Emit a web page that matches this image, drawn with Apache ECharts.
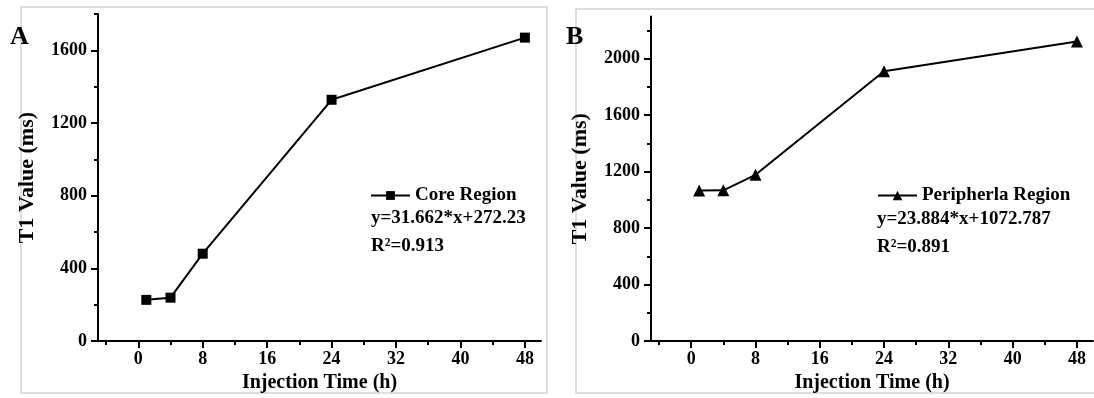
<!DOCTYPE html>
<html>
<head>
<meta charset="utf-8">
<script src="https://cdn.jsdelivr.net/npm/echarts@6/dist/echarts.min.js"></script>
<style>
  html, body { margin: 0; padding: 0; background: #fff; }
  #chart { width: 1094px; height: 398px; }
</style>
</head>
<body>
<div id="chart"></div>
<script>
// data
const timeA = [1, 4, 8, 24, 48]
const coreT1 = [227, 239, 481, 1328, 1670]
const timeB = [1, 4, 8, 24, 48]
const periT1 = [1066, 1068, 1178, 1911, 2122]

const xMajor = [0, 8, 16, 24, 32, 40, 48]
const xMinor = [-4, 4, 12, 20, 28, 36, 44]
const yMajorA = [0, 400, 800, 1200, 1600]
const yMinorA = [200, 600, 1000, 1400, 1800]
const yMajorB = [0, 400, 800, 1200, 1600, 2000]
const yMinorB = [200, 600, 1000, 1400, 1800, 2200]

const font = 'Liberation Serif'
const black = '#000'

function xAxes(grid) {
  return [
    {
      type: 'value', gridIndex: grid, position: 'bottom', min: -5, max: 50,
      name: 'Injection Time (h)', nameLocation: 'middle', nameGap: 27,
      nameTextStyle: { fontFamily: font, fontWeight: 'bold', fontSize: 20, color: black },
      axisLine: { show: true, onZero: false, lineStyle: { color: black, width: 2 } },
      axisTick: { show: true, customValues: xMajor, length: 7, lineStyle: { color: black, width: 2 } },
      axisLabel: { customValues: xMajor, margin: 9, fontFamily: font, fontWeight: 'bold', fontSize: 18, color: black,
        formatter: (v) => String(v) },
      splitLine: { show: false },
    },
    {
      type: 'value', gridIndex: grid, position: 'bottom', offset: 0, min: -5, max: 50,
      axisLine: { show: false, onZero: false },
      axisTick: { show: true, customValues: xMinor, length: 4, lineStyle: { color: black, width: 2 } },
      axisLabel: { show: false },
      splitLine: { show: false },
    },
  ]
}

function yAxes(grid, max, major, minor) {
  return [
    {
      type: 'value', gridIndex: grid, position: 'left', min: 0, max: max,
      name: 'T1 Value (ms)', nameLocation: 'middle', nameGap: 60,
      nameTextStyle: { fontFamily: font, fontWeight: 'bold', fontSize: 22, color: black },
      axisLine: { show: true, onZero: false, lineStyle: { color: black, width: 2 } },
      axisTick: { show: true, customValues: major, length: 7, lineStyle: { color: black, width: 2 } },
      axisLabel: { customValues: major, margin: 11, fontFamily: font, fontWeight: 'bold', fontSize: 18, color: black,
        formatter: (v) => String(v) },
      splitLine: { show: false },
    },
    {
      type: 'value', gridIndex: grid, position: 'left', offset: 0, min: 0, max: max,
      axisLine: { show: false, onZero: false },
      axisTick: { show: true, customValues: minor, length: 4, lineStyle: { color: black, width: 2 } },
      axisLabel: { show: false },
      splitLine: { show: false },
    },
  ]
}

const textStyle = { fontFamily: font, fontWeight: 'bold', fontSize: 19, fill: black }

const chart = echarts.init(document.getElementById('chart'))
chart.setOption({
  backgroundColor: '#fff',
  animation: false,
  grid: [
    { left: 98, top: 14, width: 443, height: 331 },
    { left: 651, top: 16.4, width: 442, height: 328.6 },
  ],
  xAxis: [...xAxes(0), ...xAxes(1)],
  yAxis: [...yAxes(0, 1800, yMajorA, yMinorA), ...yAxes(1, 2300, yMajorB, yMinorB)],
  legend: [
    {
      data: ['Core Region'], left: 365, top: 181, itemWidth: 39, itemHeight: 11,
      textStyle: { fontFamily: font, fontWeight: 'bold', fontSize: 19, color: black },
    },
    {
      data: ['Peripherla Region'], left: 872, top: 181, itemWidth: 39, itemHeight: 12,
      textStyle: { fontFamily: font, fontWeight: 'bold', fontSize: 19, color: black },
    },
  ],
  series: [
    {
      name: 'Core Region', type: 'line', xAxisIndex: 0, yAxisIndex: 0,
      data: timeA.map((t, i) => [t, coreT1[i]]),
      symbol: 'rect', symbolSize: 10,
      lineStyle: { color: black, width: 2 }, itemStyle: { color: black },
    },
    {
      name: 'Peripherla Region', type: 'line', xAxisIndex: 2, yAxisIndex: 2,
      data: timeB.map((t, i) => [t, periT1[i]]),
      symbol: 'triangle', symbolSize: 12,
      lineStyle: { color: black, width: 2 }, itemStyle: { color: black },
    },
  ],
  graphic: [
    { type: 'rect', shape: { x: 21, y: 7, width: 526, height: 386 }, style: { fill: 'none', stroke: '#d4d4d4', lineWidth: 1.5 }, z: -1 },
    { type: 'rect', shape: { x: 576, y: 9, width: 530, height: 384 }, style: { fill: 'none', stroke: '#d4d4d4', lineWidth: 1.5 }, z: -1 },
    { type: 'text', x: 10, y: 24, style: { text: 'A', fontFamily: font, fontWeight: 'bold', fontSize: 26, fill: black } },
    { type: 'text', x: 566, y: 24, style: { text: 'B', fontFamily: font, fontWeight: 'bold', fontSize: 26, fill: black } },
    { type: 'text', x: 371, y: 218, style: { ...textStyle, text: 'y=31.662*x+272.23', verticalAlign: 'middle' } },
    { type: 'text', x: 371, y: 246, style: { ...textStyle, text: 'R²=0.913', verticalAlign: 'middle' } },
    { type: 'text', x: 877, y: 219, style: { ...textStyle, text: 'y=23.884*x+1072.787', verticalAlign: 'middle' } },
    { type: 'text', x: 877, y: 247, style: { ...textStyle, text: 'R²=0.891', verticalAlign: 'middle' } },
  ],
})
</script>
</body>
</html>
